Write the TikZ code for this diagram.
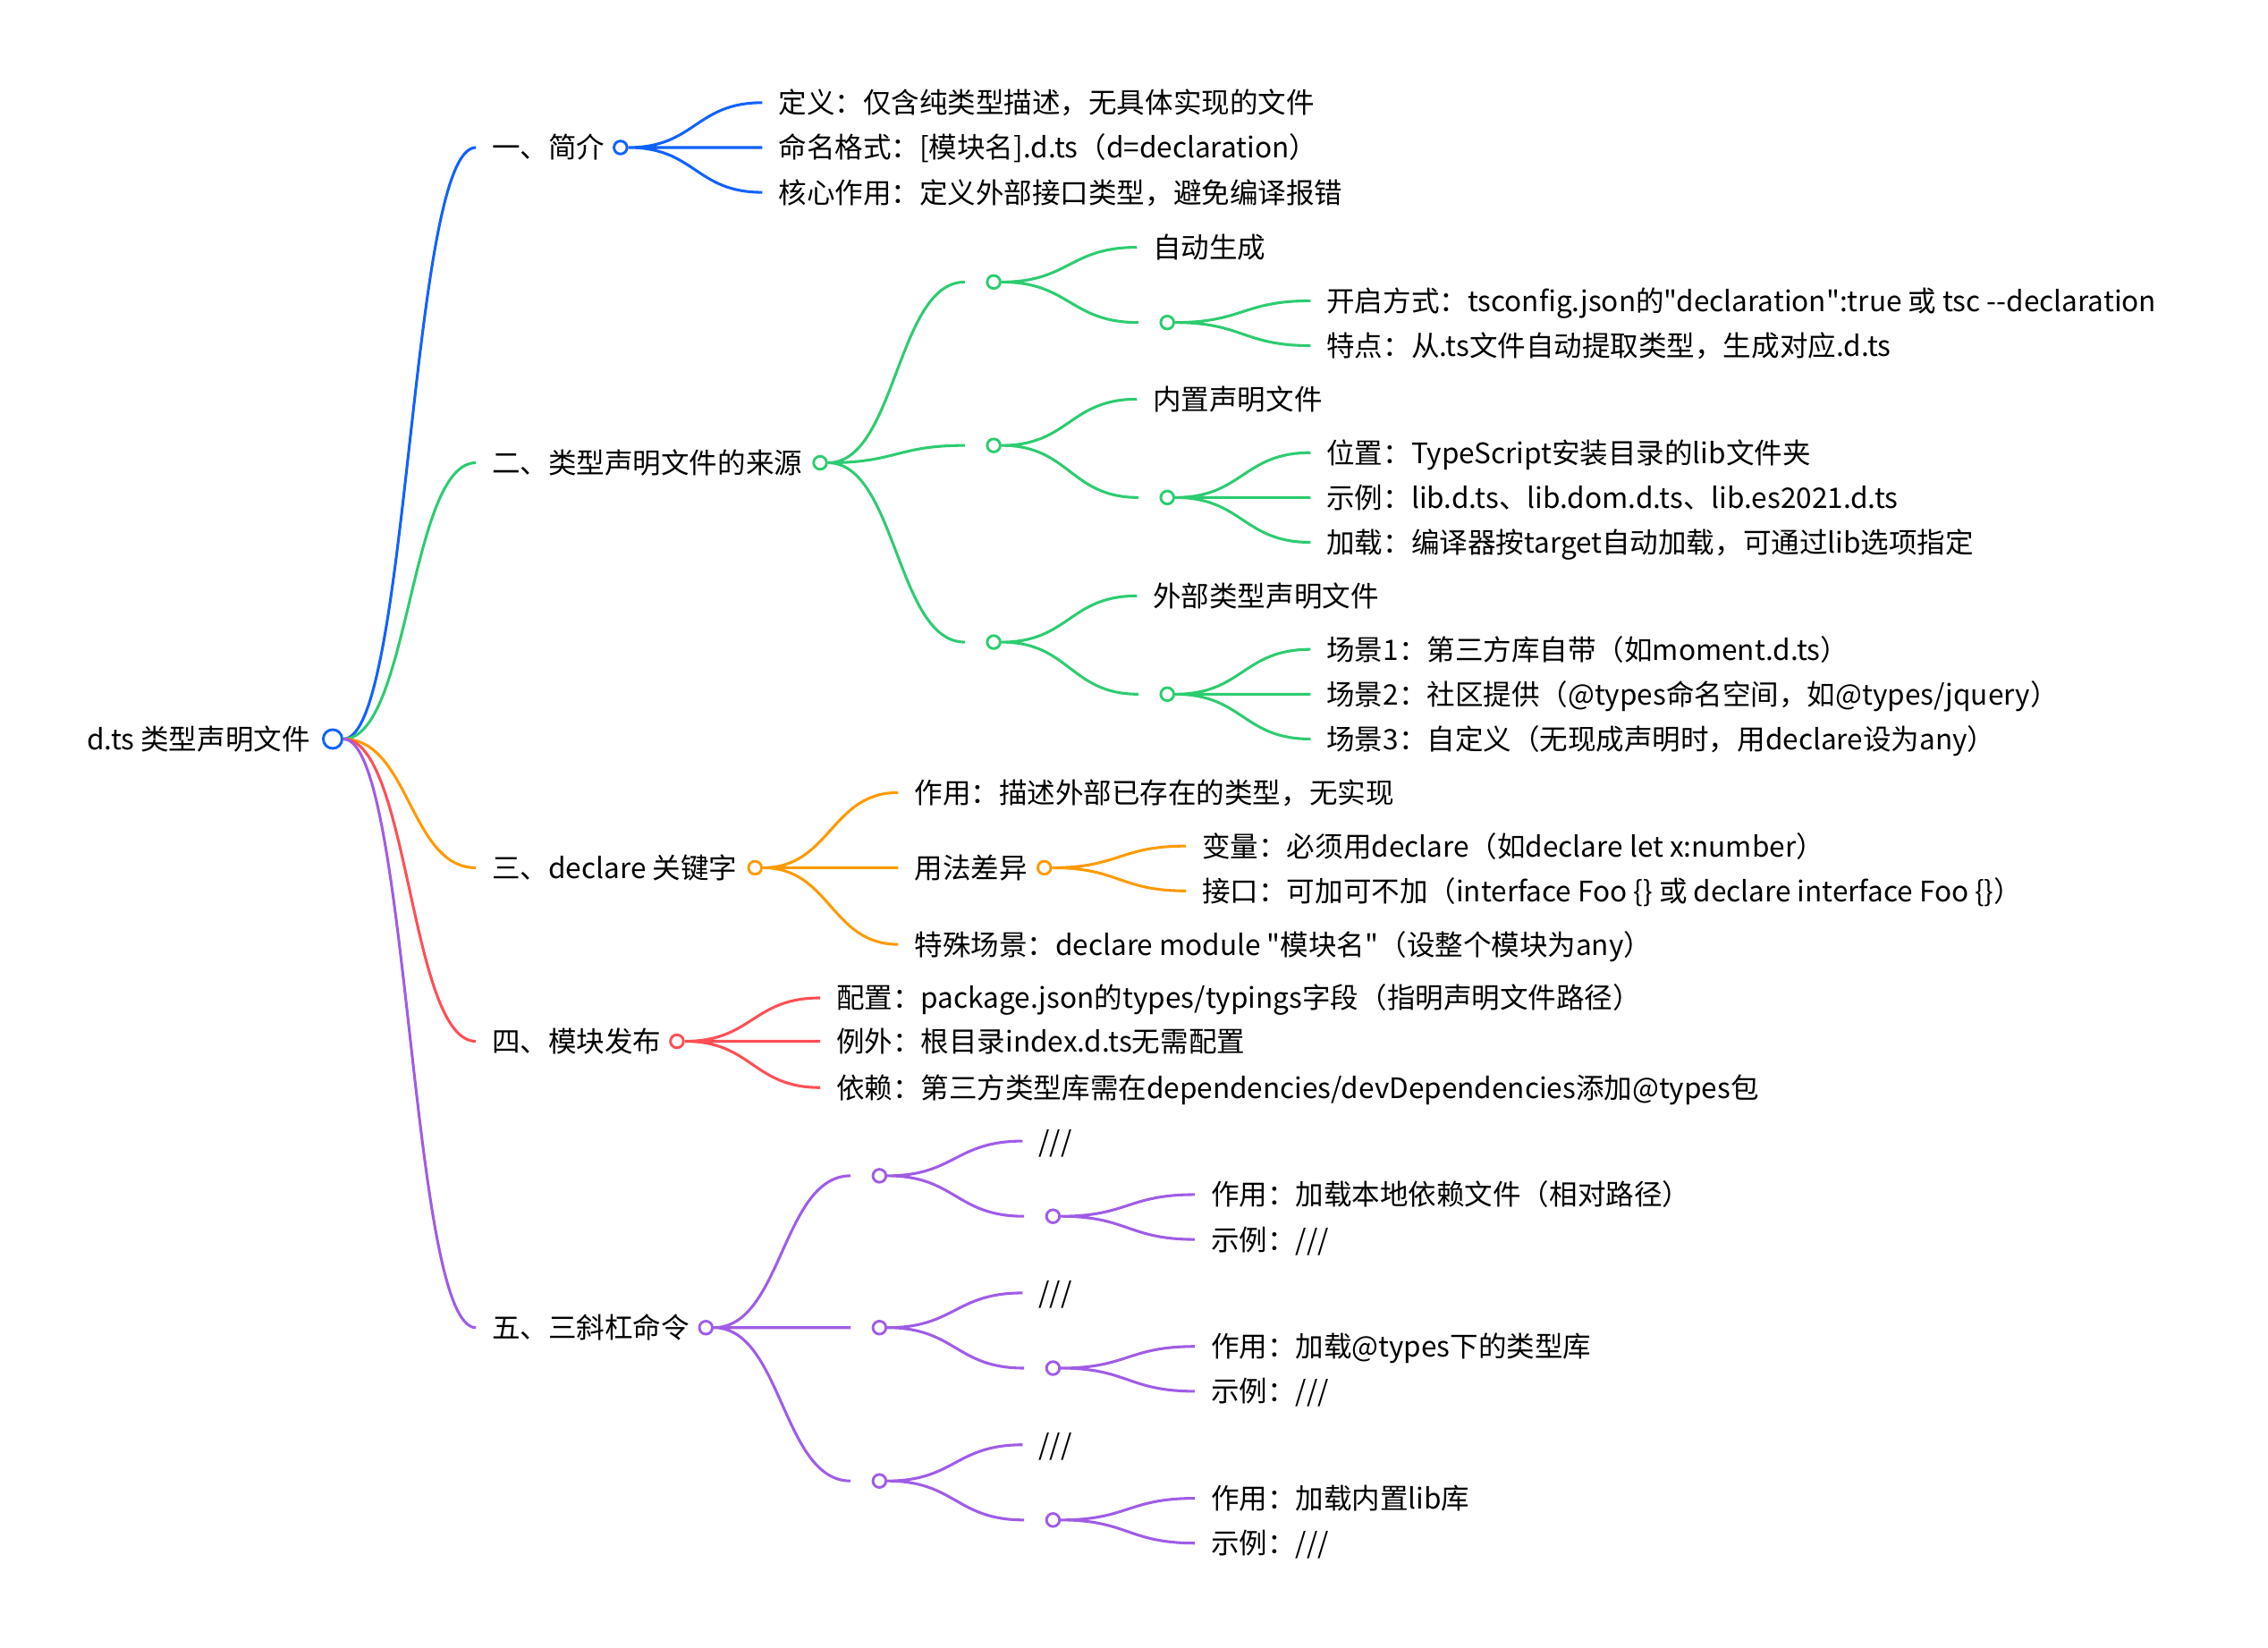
\documentclass[tikz,border=0pt]{standalone}
\usepackage{fontspec}
\setmainfont{Noto Sans CJK SC}[Ligatures=TeXOff]
\usetikzlibrary{calc,positioning}
\definecolor{mapblue}{HTML}{1062FE}
\definecolor{mapgreen}{HTML}{2DCC70}
\definecolor{maporange}{HTML}{FF9A00}
\definecolor{mapred}{HTML}{FF4F55}
\definecolor{mappurple}{HTML}{A05CE6}
\tikzset{
    every node/.style={font=\fontsize{19.5}{22}\selectfont},
    topic/.style={anchor=west,inner xsep=11pt,inner ysep=0pt,text height=16pt,text depth=1.2pt},
    dot/.style={circle,draw,fill=white,line width=1.8pt,minimum size=9pt,inner sep=0pt},
    rootdot/.style={dot,minimum size=13pt},
    link/.style={line width=1.9pt,to path={let \p1=(\tikztostart),\p2=(\tikztotarget) in
        .. controls ({(\x1+\x2)/2},\y1) and ({(\x1+\x2)/2},\y2) .. (\tikztotarget)}}
}
\begin{document}
\begin{tikzpicture}[x=1pt,y=-1pt]
\useasboundingbox (0,0) rectangle (1568,1139);
\node[topic] (root) at (49,511) {d.ts 类型声明文件};
\node[rootdot,draw=mapblue] (r0) at (230,511) {};

\node[topic] (t1) at (329,102) {一、简介};
\node[dot,draw=mapblue] (d1) at (429,102) {};
\node[topic] (t1a) at (527,71) {定义：仅含纯类型描述，无具体实现的文件};
\node[topic] (t1b) at (527,102) {命名格式：[模块名].d.ts（d=declaration）};
\node[topic] (t1c) at (527,133) {核心作用：定义外部接口类型，避免编译报错};

\node[topic] (t2) at (329,320) {二、类型声明文件的来源};
\node[dot,draw=mapgreen] (d2) at (567,320) {};
\coordinate (e21) at (667,195);
\coordinate (e22) at (667,308);
\coordinate (e23) at (667,444);
\node[dot,draw=mapgreen] (d21) at (687,195) {};
\node[dot,draw=mapgreen] (d22) at (687,308) {};
\node[dot,draw=mapgreen] (d23) at (687,444) {};
\node[topic] (t21) at (786,171) {自动生成};
\coordinate (e21a) at (787,223);
\node[dot,draw=mapgreen] (d21a) at (807,223) {};
\node[topic] (t21a) at (906,208) {开启方式：tsconfig.json的"declaration":true 或 tsc --declaration};
\node[topic] (t21b) at (906,239) {特点：从.ts文件自动提取类型，生成对应.d.ts};
\node[topic] (t22) at (786,276) {内置声明文件};
\coordinate (e22a) at (787,344);
\node[dot,draw=mapgreen] (d22a) at (807,344) {};
\node[topic] (t22a) at (906,313) {位置：TypeScript安装目录的lib文件夹};
\node[topic] (t22b) at (906,344) {示例：lib.d.ts、lib.dom.d.ts、lib.es2021.d.ts};
\node[topic] (t22c) at (906,375) {加载：编译器按target自动加载，可通过lib选项指定};
\node[topic] (t23) at (786,412) {外部类型声明文件};
\coordinate (e23a) at (787,480);
\node[dot,draw=mapgreen] (d23a) at (807,480) {};
\node[topic] (t23a) at (906,449) {场景1：第三方库自带（如moment.d.ts）};
\node[topic] (t23b) at (906,480) {场景2：社区提供（@types命名空间，如@types/jquery）};
\node[topic] (t23c) at (906,511) {场景3：自定义（无现成声明时，用declare设为any）};

\node[topic] (t3) at (329,600) {三、declare 关键字};
\node[dot,draw=maporange] (d3) at (522,600) {};
\node[topic] (t3a) at (621,548) {作用：描述外部已存在的类型，无实现};
\node[topic] (t3b) at (621,600) {用法差异};
\node[dot,draw=maporange] (d3b) at (722,600) {};
\node[topic] (t3b1) at (820,585) {变量：必须用declare（如declare let x:number）};
\node[topic] (t3b2) at (820,616) {接口：可加可不加（interface Foo \{\} 或 declare interface Foo \{\}）};
\node[topic] (t3c) at (621,653) {特殊场景：declare module "模块名"（设整个模块为any）};

\node[topic] (t4) at (329,720) {四、模块发布};
\node[dot,draw=mapred] (d4) at (468,720) {};
\node[topic] (t4a) at (567,690) {配置：package.json的types/typings字段（指明声明文件路径）};
\node[topic] (t4b) at (567,720) {例外：根目录index.d.ts无需配置};
\node[topic] (t4c) at (567,752) {依赖：第三方类型库需在dependencies/devDependencies添加@types包};

\node[topic] (t5) at (329,918) {五、三斜杠命令};
\node[dot,draw=mappurple] (d5) at (488,918) {};
\coordinate (e51) at (588,813);
\coordinate (e52) at (588,918);
\coordinate (e53) at (588,1024);
\node[dot,draw=mappurple] (d51) at (608,813) {};
\node[dot,draw=mappurple] (d52) at (608,918) {};
\node[dot,draw=mappurple] (d53) at (608,1024) {};
\node[topic] (t51) at (707,789) {///};
\coordinate (e51a) at (708,841);
\node[dot,draw=mappurple] (d51a) at (728,841) {};
\node[topic] (t51a) at (826,826) {作用：加载本地依赖文件（相对路径）};
\node[topic] (t51b) at (826,857) {示例：///};
\node[topic] (t52) at (707,894) {///};
\coordinate (e52a) at (708,946);
\node[dot,draw=mappurple] (d52a) at (728,946) {};
\node[topic] (t52a) at (826,931) {作用：加载@types下的类型库};
\node[topic] (t52b) at (826,962) {示例：///};
\node[topic] (t53) at (707,999) {///};
\coordinate (e53a) at (708,1051);
\node[dot,draw=mappurple] (d53a) at (728,1051) {};
\node[topic] (t53a) at (826,1036) {作用：加载内置lib库};
\node[topic] (t53b) at (826,1067) {示例：///};

\draw[link,draw=mapblue] (r0.east) to (t1.west);
\draw[link,draw=mapgreen] (r0.east) to (t2.west);
\draw[link,draw=maporange] (r0.east) to (t3.west);
\draw[link,draw=mapred] (r0.east) to (t4.west);
\draw[link,draw=mappurple] (r0.east) to (t5.west);

\draw[link,draw=mapblue] (d1.east) to (t1a.west) (d1.east) to (t1b.west) (d1.east) to (t1c.west);

\draw[link,draw=mapgreen] (d2.east) to (e21) (d2.east) to (e22) (d2.east) to (e23);
\draw[link,draw=mapgreen] (d21.east) to (t21.west) (d21.east) to (e21a);
\draw[link,draw=mapgreen] (d21a.east) to (t21a.west) (d21a.east) to (t21b.west);
\draw[link,draw=mapgreen] (d22.east) to (t22.west) (d22.east) to (e22a);
\draw[link,draw=mapgreen] (d22a.east) to (t22a.west) (d22a.east) to (t22b.west) (d22a.east) to (t22c.west);
\draw[link,draw=mapgreen] (d23.east) to (t23.west) (d23.east) to (e23a);
\draw[link,draw=mapgreen] (d23a.east) to (t23a.west) (d23a.east) to (t23b.west) (d23a.east) to (t23c.west);

\draw[link,draw=maporange] (d3.east) to (t3a.west) (d3.east) to (t3b.west) (d3.east) to (t3c.west);
\draw[link,draw=maporange] (d3b.east) to (t3b1.west) (d3b.east) to (t3b2.west);

\draw[link,draw=mapred] (d4.east) to (t4a.west) (d4.east) to (t4b.west) (d4.east) to (t4c.west);

\draw[link,draw=mappurple] (d5.east) to (e51) (d5.east) to (e52) (d5.east) to (e53);
\draw[link,draw=mappurple] (d51.east) to (t51.west) (d51.east) to (e51a);
\draw[link,draw=mappurple] (d51a.east) to (t51a.west) (d51a.east) to (t51b.west);
\draw[link,draw=mappurple] (d52.east) to (t52.west) (d52.east) to (e52a);
\draw[link,draw=mappurple] (d52a.east) to (t52a.west) (d52a.east) to (t52b.west);
\draw[link,draw=mappurple] (d53.east) to (t53.west) (d53.east) to (e53a);
\draw[link,draw=mappurple] (d53a.east) to (t53a.west) (d53a.east) to (t53b.west);
\end{tikzpicture}
\end{document}
